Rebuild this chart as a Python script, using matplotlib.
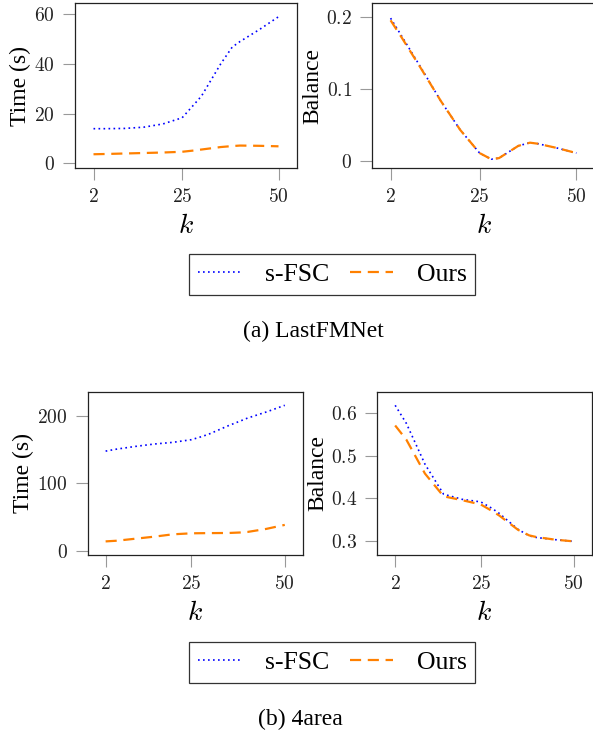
import matplotlib
matplotlib.use("Agg")
import matplotlib.pyplot as plt
from matplotlib.ticker import FuncFormatter

plt.rcParams['font.family'] = ['Liberation Serif', 'DejaVu Serif']
plt.rcParams['mathtext.fontset'] = 'cm'

k = [2, 5, 10, 15, 20, 25, 28, 30, 35, 38, 40, 45, 50]

# LastFMNet
lfm_time_sfsc = [13.9, 13.9, 14.0, 14.5, 15.8, 18.3, 23.5, 27.0, 40.0, 46.8, 49.0, 53.8, 59.0]
lfm_time_ours = [3.6, 3.7, 3.9, 4.1, 4.3, 4.6, 5.1, 5.5, 6.5, 6.9, 7.1, 7.0, 6.8]
lfm_bal_sfsc = [0.198, 0.172, 0.128, 0.083, 0.043, 0.011, 0.0025, 0.004, 0.021, 0.0254, 0.024, 0.018, 0.011]
lfm_bal_ours = [0.195, 0.170, 0.127, 0.083, 0.043, 0.011, 0.0025, 0.004, 0.021, 0.0254, 0.024, 0.018, 0.011]

# 4area
area_time_sfsc = [148, 151, 155, 158.5, 161, 165, 170, 174, 186, 192.5, 197, 206, 216]
area_time_ours = [14, 15, 18, 21, 24.5, 26, 26.2, 26.3, 26.5, 27.2, 28, 32.5, 38.5]
area_bal_sfsc = [0.617, 0.575, 0.480, 0.410, 0.398, 0.392, 0.377, 0.365, 0.328, 0.313, 0.309, 0.304, 0.300]
area_bal_ours = [0.570, 0.537, 0.458, 0.405, 0.396, 0.386, 0.371, 0.360, 0.327, 0.314, 0.310, 0.304, 0.300]

xticks = [2, 25, 50]
time_ticks_lfm = [0, 20, 40, 60]
bal_ticks_lfm = [0, 0.1, 0.2]
time_ticks_area = [0, 100, 200]
bal_ticks_area = [0.3, 0.4, 0.5, 0.6]

BLUE = (0, 0, 1)
ORANGE = (1, 0.5, 0)


def fmt(v, pos):
    return r'$%g$' % v


def draw(ax, y1, y2, ylabel, yticks, ylim=None):
    ax.plot(k, y1, color=BLUE, lw=1.2, linestyle=(0, (1, 2)), label='s-FSC')
    ax.plot(k, y2, color=ORANGE, lw=1.6, linestyle=(0, (5, 3)), label='Ours')
    ax.margins(x=0.1, y=0.1)
    if ylim:
        ax.set_ylim(*ylim)
    ax.set_xticks(xticks)
    ax.set_yticks(yticks)
    ax.xaxis.set_major_formatter(FuncFormatter(fmt))
    ax.yaxis.set_major_formatter(FuncFormatter(fmt))
    ax.tick_params(direction='out', length=8.5, width=0.8, color='#999999',
                   labelsize=14, labelcolor='#222222', pad=6)
    for s in ax.spines.values():
        s.set_linewidth(0.9)
        s.set_color('#222222')
    ax.set_xlabel(r'$k$', fontsize=20, labelpad=6)
    ax.set_ylabel(ylabel, fontsize=17, labelpad=2)


fig = plt.figure(figsize=(5.93, 7.32), dpi=100)
W, H = 593, 732


def add(l, r, t, b):
    return fig.add_axes([l / W, 1 - b / H, (r - l) / W, (b - t) / H])


ax1 = add(75, 297, 3, 168)
ax2 = add(372, 595, 3, 168)
ax3 = add(87.7, 302.7, 391.7, 555)
ax4 = add(377.3, 591.7, 391.7, 555)

draw(ax1, lfm_time_sfsc, lfm_time_ours, 'Time (s)', time_ticks_lfm)
draw(ax2, lfm_bal_sfsc, lfm_bal_ours, 'Balance', bal_ticks_lfm, ylim=(-0.0097, 0.219))
draw(ax3, area_time_sfsc, area_time_ours, 'Time (s)', time_ticks_area)
draw(ax4, area_bal_sfsc, area_bal_ours, 'Balance', bal_ticks_area)

handles, labels = ax1.get_legend_handles_labels()
for yc in (274.3, 662.5):
    leg = fig.legend(handles, labels, loc='center', bbox_to_anchor=(332.3 / W, 1 - yc / H),
                     ncol=2, fontsize=18.5, frameon=True, fancybox=False,
                     handlelength=1.7, handletextpad=0.9, columnspacing=0.8,
                     borderpad=0.35)
    leg.get_frame().set_edgecolor('black')
    leg.get_frame().set_linewidth(0.9)

fig.text(313.7 / W, 1 - 331.7 / H, '(a) LastFMNet', ha='center', va='center', fontsize=17)
fig.text(300 / W, 1.5 / H, '(b) 4area', ha='center', va='bottom', fontsize=17)

fig.savefig('out.png', dpi=100)
